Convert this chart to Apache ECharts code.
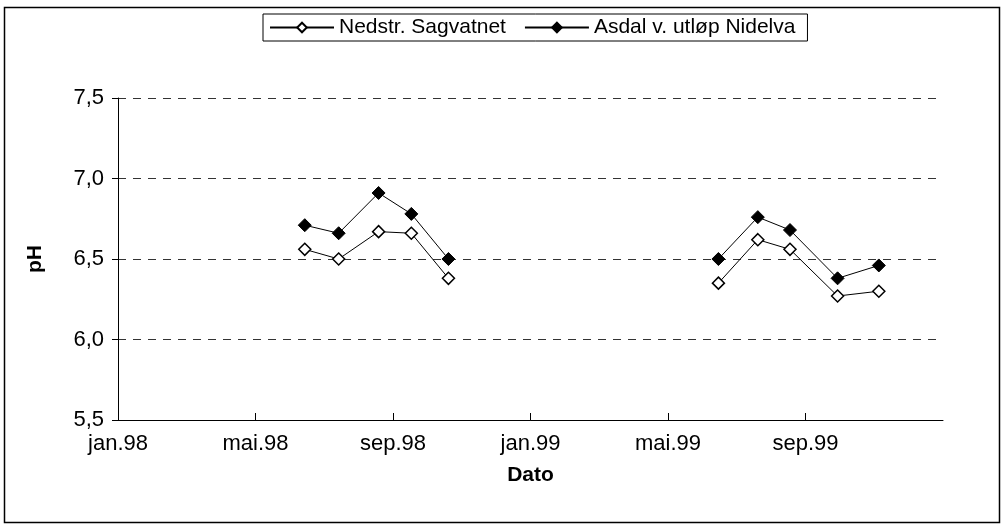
<!DOCTYPE html>
<html>
<head>
<meta charset="utf-8">
<script src="https://cdn.jsdelivr.net/npm/echarts@6/dist/echarts.min.js"></script>
<style>
  html, body { margin: 0; padding: 0; background: #fff; }
  #chart { width: 1003px; height: 528px; }
</style>
</head>
<body>
<div id="chart"></div>
<script>
// sampling dates and pH values
const dates = [
  "1998-06-14", "1998-07-14", "1998-08-19", "1998-09-17", "1998-10-20",
  "1999-06-15", "1999-07-20", "1999-08-18", "1999-09-29", "1999-11-05"
];
const sagvatnet = [6.56, 6.50, 6.67, 6.66, 6.38, 6.35, 6.62, 6.56, 6.27, 6.30];
const asdal = [6.71, 6.66, 6.91, 6.78, 6.50, 6.50, 6.76, 6.68, 6.38, 6.46];
const seriesNames = ["Nedstr. Sagvatnet", "Asdal v. utløp Nidelva"];
const monthNames = ["jan", "feb", "mar", "apr", "mai", "jun", "jul", "aug", "sep", "okt", "nov", "des"];
const yTicks = [5.5, 6.0, 6.5, 7.0, 7.5];

const FONT = "Liberation Sans, Arial, sans-serif";

// months since jan.98
function monthIndex(s) {
  var p = s.split("-").map(Number);
  var dim = new Date(p[0], p[1], 0).getDate();
  return (p[0] - 1998) * 12 + (p[1] - 1) + (p[2] - 1) / dim;
}

// break between the two seasons
function withGap(vals) {
  var out = [];
  var prev = null;
  for (var i = 0; i < dates.length; i++) {
    var m = monthIndex(dates[i]);
    if (prev !== null && m - prev > 6) out.push([null, null]);
    out.push([m, vals[i]]);
    prev = m;
  }
  return out;
}

const chart = echarts.init(document.getElementById("chart"), null, { renderer: "canvas" });

chart.setOption({
  animation: false,
  backgroundColor: "#fff",
  textStyle: { fontFamily: FONT, color: "#000" },
  graphic: [
    {
      type: "rect",
      shape: { x: 4.5, y: 7.5, width: 995, height: 515 },
      style: { fill: "none", stroke: "#000", lineWidth: 1.5 },
      silent: true
    }
  ],
  legend: {
    top: 14,
    left: 263,
    itemWidth: 64,
    itemHeight: 12,
    itemGap: 18,
    padding: [3, 12, 3, 6],
    borderColor: "#000",
    borderWidth: 1,
    textStyle: { fontFamily: FONT, fontSize: 21, color: "#000" },
    data: seriesNames
  },
  grid: { left: 118, right: 60, top: 98, bottom: 108 },
  xAxis: {
    type: "value",
    min: 0,
    max: 24,
    interval: 4,
    name: "Dato",
    nameLocation: "middle",
    nameGap: 45,
    nameTextStyle: { fontFamily: FONT, fontSize: 21, fontWeight: "bold", color: "#000" },
    axisLine: { show: true, onZero: false, lineStyle: { color: "#000", width: 1 } },
    axisTick: { show: true, inside: true, length: 7, lineStyle: { color: "#000" } },
    splitLine: { show: false },
    axisLabel: {
      fontFamily: FONT, fontSize: 22, color: "#000", margin: 13,
      showMaxLabel: false,
      formatter: function (v) {
        var y = 98 + Math.floor(v / 12);
        return monthNames[v % 12] + "." + (y % 100 < 10 ? "0" : "") + (y % 100);
      }
    }
  },
  yAxis: {
    type: "value",
    min: yTicks[0],
    max: yTicks[yTicks.length - 1],
    interval: 0.5,
    name: "pH",
    nameLocation: "middle",
    nameGap: 72,
    nameTextStyle: { fontFamily: FONT, fontSize: 21, fontWeight: "bold", color: "#000" },
    axisLine: { show: true, lineStyle: { color: "#000", width: 1 } },
    axisTick: { show: true, length: 6, lineStyle: { color: "#000" } },
    splitLine: { show: true, lineStyle: { color: "#333", type: [8, 7], width: 1 } },
    axisLabel: {
      fontFamily: FONT, fontSize: 22, color: "#000", margin: 14,
      formatter: function (v) { return v.toFixed(1).replace(".", ","); }
    }
  },
  series: [
    {
      name: seriesNames[0],
      type: "line",
      data: withGap(sagvatnet),
      connectNulls: false,
      symbol: "diamond",
      symbolSize: 12,
      lineStyle: { color: "#000", width: 1 },
      itemStyle: { color: "#fff", borderColor: "#000", borderWidth: 1.5 }
    },
    {
      name: seriesNames[1],
      type: "line",
      data: withGap(asdal),
      connectNulls: false,
      symbol: "diamond",
      symbolSize: 13,
      lineStyle: { color: "#000", width: 1 },
      itemStyle: { color: "#000", borderColor: "#000", borderWidth: 1 }
    }
  ]
});
</script>
</body>
</html>
